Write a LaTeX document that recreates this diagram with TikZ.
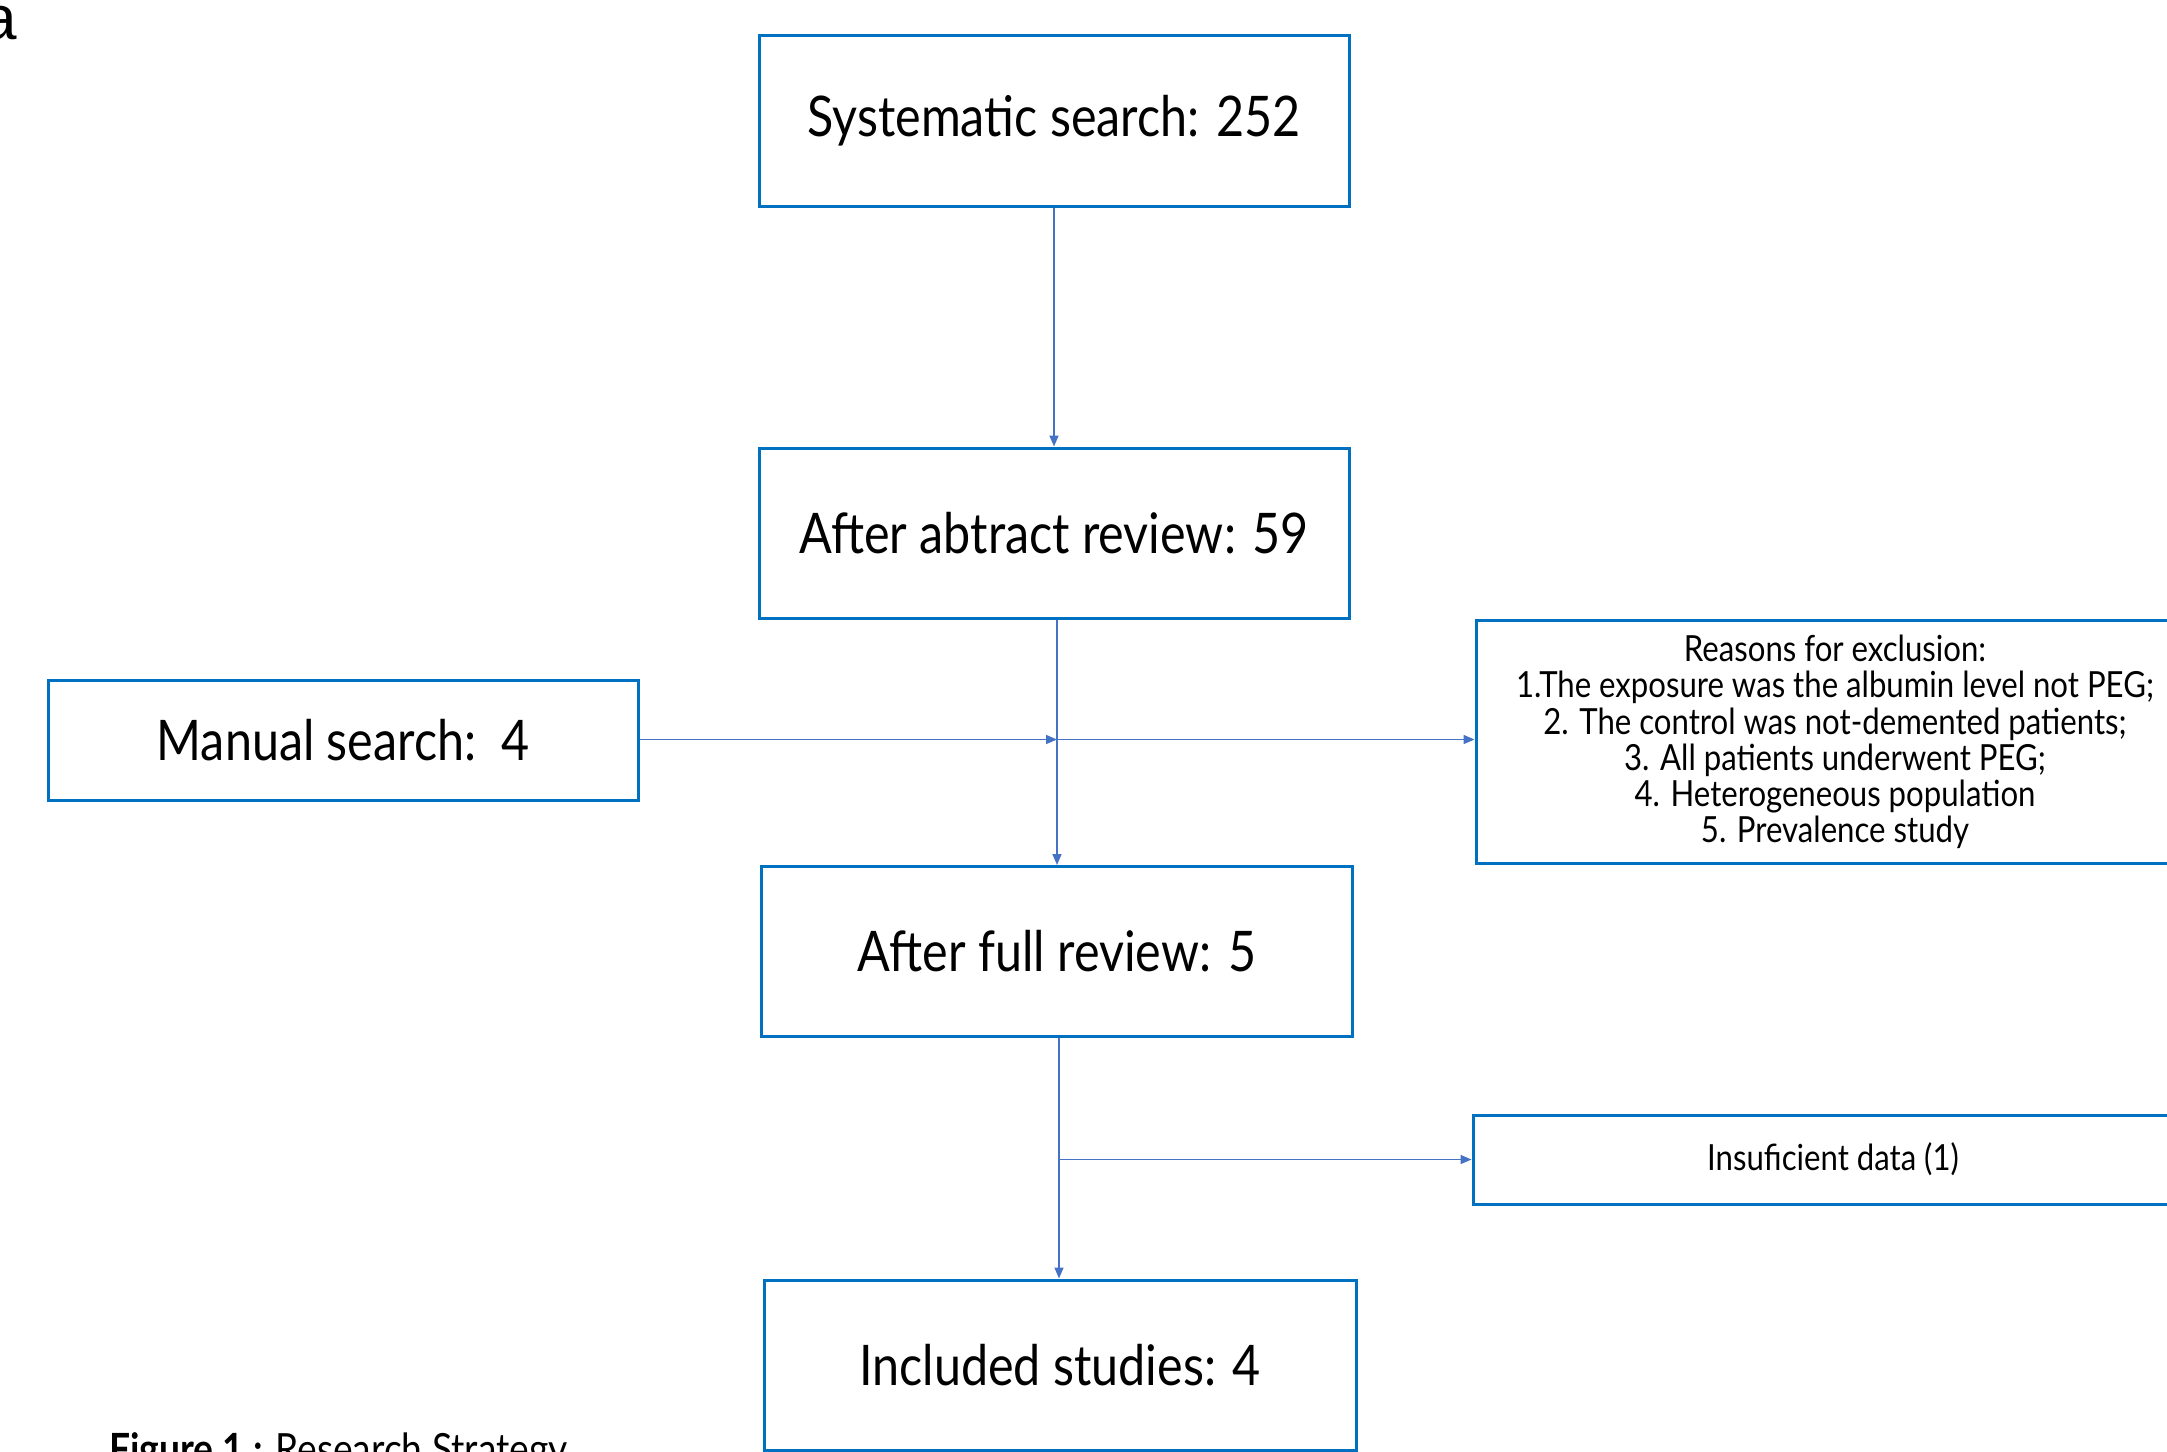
\documentclass[tikz,border=0pt]{standalone}
\usepackage{fontspec}
\setmainfont[FakeStretch=0.865]{Lato}
\newfontfamily\arialfont{Liberation Sans}
\usetikzlibrary{arrows.meta}
\definecolor{boxblue}{HTML}{0070C0}
\definecolor{arrblue}{HTML}{4472C4}
\begin{document}
\begin{tikzpicture}[x=1pt,y=-1pt,
  mainbox/.style={draw=boxblue, line width=3pt, minimum width=590pt, minimum height=171pt, inner sep=0pt, font=\fontsize{56}{60}\selectfont, anchor=center},
  sidebox/.style={draw=boxblue, line width=3pt, inner sep=0pt, anchor=center, align=center, font=\fontsize{36}{36.3}\selectfont},
  conn/.style={draw=arrblue, line width=1.6pt, -{Triangle[length=11pt,width=9pt]}}]
\useasboundingbox (0,0) rectangle (2167,1451);
\node[anchor=base east, inner sep=0pt, font=\arialfont\fontsize{62}{62}\selectfont] (lbl) at (17,39) {a};
\node[mainbox] (sys) at (1054,120.5) {Systematic search: 252};
\node[mainbox, minimum height=170pt] (abs) at (1054,533) {After abtract review: 59};
\node[mainbox, minimum height=120pt] (man) at (343,740) {Manual search:\ \ 4};
\node[sidebox, minimum width=718pt, minimum height=243.5pt] (rea) at (1835,742) {Reasons for exclusion:\\1.The exposure was the albumin level not PEG;\\2. The control was not-demented patients;\\3. All patients underwent PEG;\\4. Heterogeneous population\\5. Prevalence study};
\node[mainbox, minimum width=591.5pt, minimum height=170pt] (full) at (1057,951.5) {After full review: 5};
\node[sidebox, minimum width=720pt, minimum height=89pt] (ins) at (1833,1159.5) {Insuficient data (1)};
\node[mainbox, minimum width=592pt, minimum height=170pt] (inc) at (1060,1365) {Included studies: 4};
\node[anchor=base west, inner sep=0pt, font=\fontsize{43}{46}\selectfont] (cap) at (109,1464) {\textbf{Figure 1 :} Research Strategy};
\coordinate (j1) at (1057,739.5);
\coordinate (j2) at (1059,1159.5);
\draw[conn] (sys.south) -- (abs.north);
\draw[conn] (abs.south -| j1) -- (j1 |- full.north);
\draw[conn] (man.east |- j1) -- (j1);
\draw[conn] (j1) -- (rea.west |- j1);
\draw[conn] (full.south -| j2) -- (j2 |- inc.north);
\draw[conn] (j2) -- (ins.west |- j2);
\end{tikzpicture}
\end{document}
